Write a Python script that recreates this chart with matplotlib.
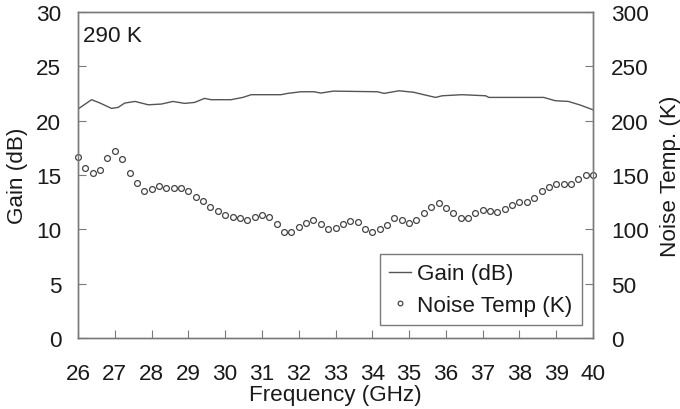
import matplotlib
matplotlib.use("Agg")
import matplotlib.pyplot as plt
import numpy as np

plt.rcParams['font.family'] = ['Liberation Sans', 'DejaVu Sans']

# Gain trace (dB) vs frequency (GHz)
gain_freq = [26.0, 26.37, 26.6, 26.91, 27.09, 27.27, 27.55, 27.91, 28.27, 28.58,
             28.90, 29.17, 29.44, 29.62, 30.16, 30.48, 30.71, 31.52, 31.70, 32.06,
             32.42, 32.60, 32.94, 34.14, 34.32, 34.73, 35.13, 35.40, 35.72, 35.90,
             36.44, 37.08, 37.17, 38.66, 38.97, 39.33, 39.65, 40.0]
gain_db = [21.07, 21.93, 21.62, 21.13, 21.22, 21.62, 21.77, 21.46, 21.53, 21.77,
           21.59, 21.68, 22.05, 21.93, 21.93, 22.14, 22.39, 22.39, 22.51, 22.66,
           22.66, 22.54, 22.72, 22.66, 22.51, 22.75, 22.61, 22.39, 22.14, 22.29,
           22.39, 22.29, 22.14, 22.14, 21.84, 21.77, 21.44, 21.0]

# Noise temperature (K) sampled every 0.2 GHz from 26 to 40
noise_freq = [26.0 + 0.2 * i for i in range(71)]
noise_k = [167, 156, 152, 155, 166, 172, 165, 152, 143, 135,
           137, 140, 138, 138, 138, 135, 130, 126, 121, 117,
           113, 111, 110, 109, 111, 113, 111, 105, 98, 98,
           102, 106, 109, 105, 100, 101, 105, 108, 107, 100,
           98, 100, 104, 110, 109, 106, 109, 115, 121, 124,
           120, 115, 110, 110, 115, 118, 117, 116, 119, 122,
           125, 125, 129, 135, 139, 142, 142, 142, 146, 150,
           150]

xticks = list(range(26, 41))
gain_ticks = [0, 5, 10, 15, 20, 25, 30]
noise_ticks = [0, 50, 100, 150, 200, 250, 300]

fig = plt.figure(figsize=(6.8, 4.1), dpi=100)
ax = fig.add_axes([78/680, 1 - 339/410, (593-78)/680, (339-13)/410])
ax2 = ax.twinx()

spine_c = '#7a7a7a'
text_c = '#1a1a1a'
fs = 16.2

l1, = ax.plot(gain_freq, gain_db, color='#555555', lw=1.0, label='Gain (dB)')
l2, = ax2.plot(noise_freq, noise_k, linestyle='none', marker='o', markersize=4.2,
               markerfacecolor='white', markeredgecolor='#444444', markeredgewidth=0.9,
               label='Noise Temp (K)', clip_on=False)

ax.set_xlim(26, 40)
ax.set_ylim(0, 30)
ax2.set_ylim(0, 300)
ax.set_xticks(xticks)
ax.set_yticks(gain_ticks)
ax2.set_yticks(noise_ticks)

for a in (ax, ax2):
    for s in a.spines.values():
        s.set_color(spine_c)
        s.set_linewidth(1.0)
ax.tick_params(axis='x', direction='in', length=6, color=spine_c, labelsize=fs,
               labelcolor=text_c, pad=18)
ax.tick_params(axis='y', direction='in', length=6, color=spine_c, labelsize=fs,
               labelcolor=text_c, pad=12)
ax2.tick_params(axis='y', direction='in', length=6, color=spine_c, labelsize=fs,
                labelcolor=text_c, pad=13)

ax.set_xlabel('Frequency (GHz)', fontsize=fs, color=text_c, labelpad=0)
ax.set_ylabel('Gain (dB)', fontsize=fs, color=text_c, labelpad=6)
ax2.set_ylabel('Noise Temp. (K)', fontsize=fs, color=text_c, labelpad=8)

ax.text(0.01, 0.929, '290 K', transform=ax.transAxes, fontsize=fs, color=text_c,
        ha='left', va='center')

leg = ax2.legend([l1, l2], ['Gain (dB)', 'Noise Temp (K)'], loc='lower right',
                 bbox_to_anchor=(0.9786, 0.04), borderaxespad=0, fontsize=fs,
                 frameon=True, fancybox=False, shadow=False, handlelength=0.95,
                 handletextpad=0.3, borderpad=0.42, labelspacing=0.45,
                 labelcolor=text_c, markerscale=0.8)
leg.get_frame().set_edgecolor(spine_c)
leg.get_frame().set_linewidth(1.0)
leg.get_frame().set_alpha(1)

fig.savefig('out.png', dpi=100)
